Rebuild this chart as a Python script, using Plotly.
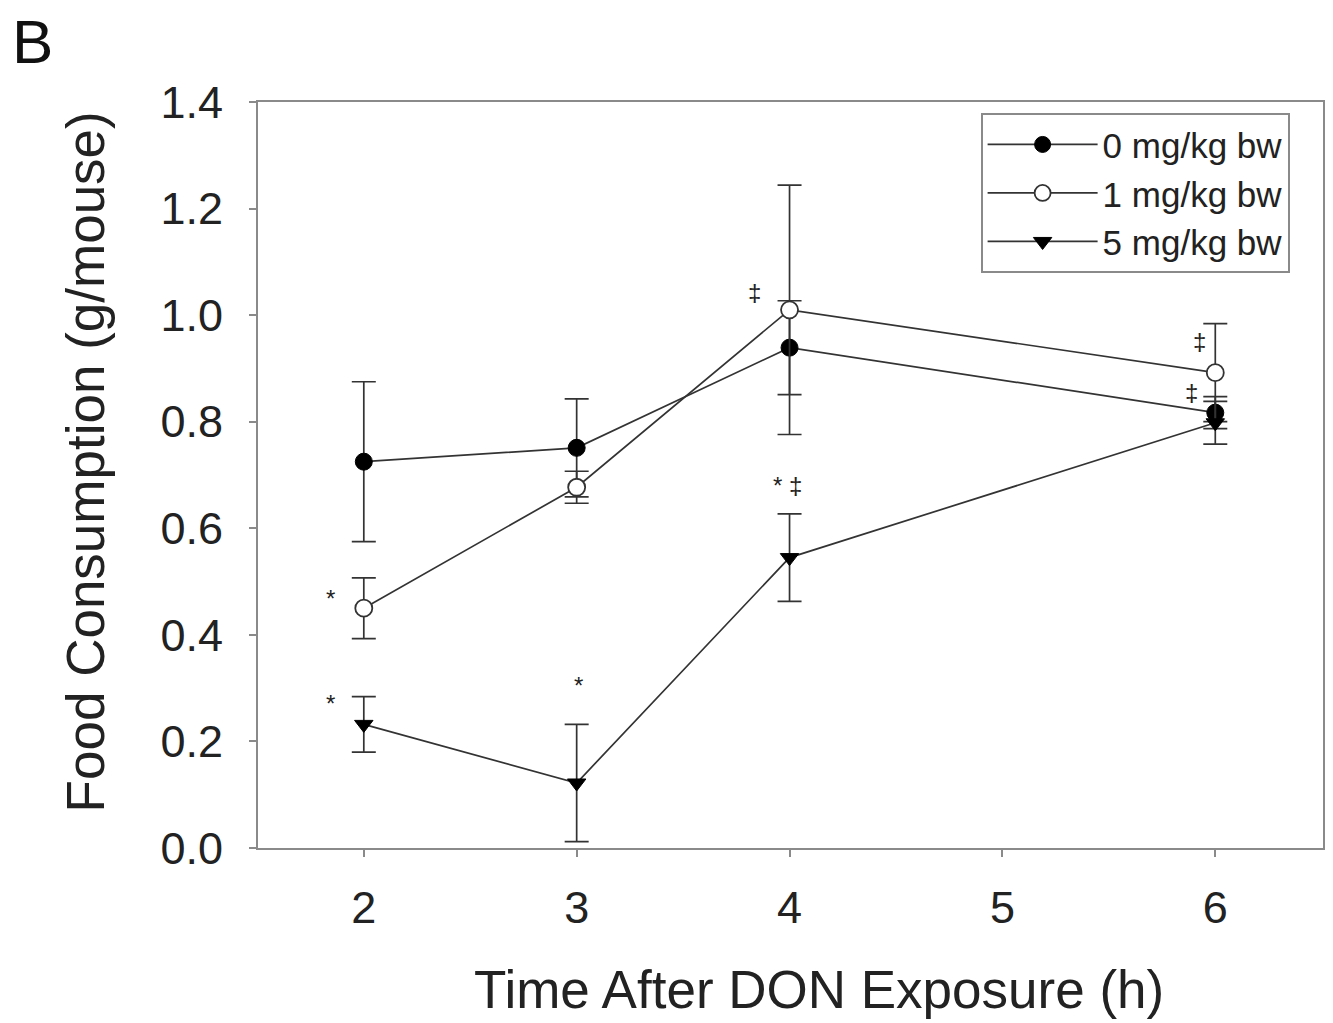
import plotly.graph_objects as go

time_h = [2, 3, 4, 6]

dose0_mean = [0.725, 0.751, 0.939, 0.817]
dose0_err = [0.150, 0.092, 0.088, 0.030]

dose1_mean = [0.450, 0.677, 1.010, 0.892]
dose1_err = [0.057, 0.030, 0.234, 0.092]

dose5_mean = [0.232, 0.122, 0.545, 0.798]
dose5_err = [0.052, 0.110, 0.082, 0.040]

series_names = ["0 mg/kg bw", "1 mg/kg bw", "5 mg/kg bw"]

x_ticks = [2, 3, 4, 5, 6]
y_ticks = [0.0, 0.2, 0.4, 0.6, 0.8, 1.0, 1.2, 1.4]
y_tick_labels = ["0.0", "0.2", "0.4", "0.6", "0.8", "1.0", "1.2", "1.4"]

x_title = "Time After DON Exposure (h)"
y_title = "Food Consumption (g/mouse)"
panel_label = "B"

# significance marks: (series index, time, text, xshift px, yshift px)
sig_marks = [
    (1, 2, "*", -33, 10),
    (2, 2, "*", -33, 21),
    (2, 3, "*", 2, 97),
    (1, 4, "‡", -35, 17),
    (2, 4, "* ‡", -2, 72),
    (1, 6, "‡", -16, 31),
    (0, 6, "‡", -24, 20),
]

LINE = "#333333"
FRAME = "#8a8a8a"
FONT = "Liberation Sans, Arial, sans-serif"

means = [dose0_mean, dose1_mean, dose5_mean]
errs = [dose0_err, dose1_err, dose5_err]
markers = [
    dict(symbol="circle", size=17, color="black", line=dict(color="black", width=1)),
    dict(symbol="circle", size=17, color="white", line=dict(color=LINE, width=1.8)),
    dict(symbol="triangle-down", size=16, color="black", line=dict(color="black", width=1)),
]

fig = go.Figure()
for name, m, e, mk in zip(series_names, means, errs, markers):
    fig.add_trace(go.Scatter(
        x=time_h, y=m, name=name, mode="lines+markers",
        line=dict(color=LINE, width=1.7),
        marker=mk,
        error_y=dict(type="data", array=e, visible=True, color=LINE, thickness=1.7, width=12),
    ))

for si, t, txt, dx, dy in sig_marks:
    yv = means[si][time_h.index(t)]
    fig.add_annotation(x=t, y=yv, text=txt, showarrow=False, xshift=dx, yshift=dy,
                       font=dict(family=FONT, size=24, color="#222"))

fig.add_annotation(x=-0.233, y=1.13, xref="paper", yref="paper", xanchor="left", yanchor="top",
                   text=panel_label, showarrow=False,
                   font=dict(family=FONT, size=62, color="#111"))
fig.add_annotation(x=-0.1621, y=0.5174, xref="paper", yref="paper", xanchor="center", yanchor="middle",
                   text=y_title, textangle=-90, showarrow=False,
                   font=dict(family=FONT, size=53, color="#222"))
fig.add_annotation(x=0.5267, y=-0.1903, xref="paper", yref="paper", xanchor="center", yanchor="middle",
                   text=x_title, showarrow=False,
                   font=dict(family=FONT, size=53, color="#222"))

fig.update_layout(
    width=1333, height=1023,
    margin=dict(l=258, r=8, t=102, b=175),
    paper_bgcolor="white", plot_bgcolor="white",
    font=dict(family=FONT, color="#111"),
    showlegend=True,
    legend=dict(
        x=0.6785, y=0.985, xanchor="left", yanchor="top",
        bordercolor=FRAME, borderwidth=2, bgcolor="white",
        font=dict(family=FONT, size=35, color="#222"),
        itemwidth=110, tracegroupgap=0,
    ),
    xaxis=dict(
        range=[1.503, 6.506], tickvals=x_ticks, ticktext=[str(v) for v in x_ticks],
        showline=True, linecolor=FRAME, linewidth=2, mirror=True,
        ticks="outside", ticklen=7, tickcolor=FRAME, tickwidth=2,
        showgrid=False, zeroline=False, ticklabelstandoff=12,
        tickfont=dict(family=FONT, size=45, color="#222"),
    ),
    yaxis=dict(
        range=[0, 1.4], tickvals=y_ticks, ticktext=y_tick_labels,
        showline=True, linecolor=FRAME, linewidth=2, mirror=True,
        ticks="outside", ticklen=7, tickcolor=FRAME, tickwidth=2,
        showgrid=False, zeroline=False, ticklabelstandoff=17,
        tickfont=dict(family=FONT, size=45, color="#222"),
    ),
)

fig.write_html("out.html")
